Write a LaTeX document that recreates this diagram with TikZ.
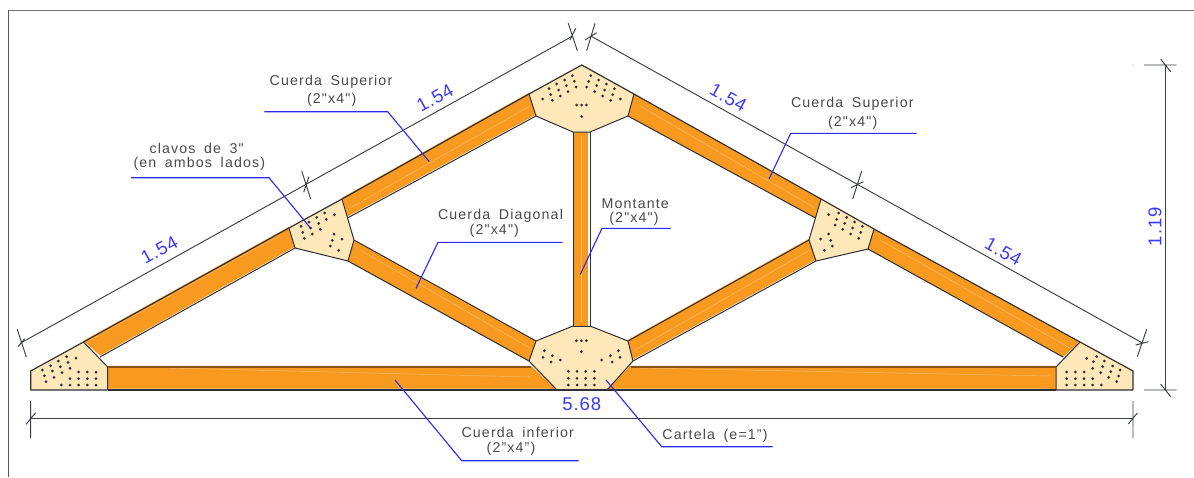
\documentclass[tikz,border=0pt]{standalone}
\usepackage{fontspec}
\setmainfont{Liberation Sans}
\newfontfamily\cadfont[LetterSpace=8,WordSpace=1.7]{Liberation Sans}
\newfontfamily\cadnum[LetterSpace=5]{Liberation Sans}
\definecolor{wood}{HTML}{F99A20}
\definecolor{woodtop}{HTML}{8A5212}
\definecolor{plate}{HTML}{FEE7B8}
\definecolor{inkline}{HTML}{2E3036}
\definecolor{dimline}{HTML}{3C4046}
\definecolor{leader}{HTML}{2A2AF0}
\definecolor{numblue}{HTML}{3A3AFF}
\definecolor{txtgray}{HTML}{4A4A4A}
\tikzset{
  lbl/.style={font=\cadfont\fontsize{14.2}{15}\selectfont,text=txtgray,inner sep=0pt,anchor=center},
  num/.style={font=\cadnum\fontsize{18.5}{19}\selectfont,text=numblue,inner sep=0pt,anchor=center},
  woodfill/.style={fill=wood,draw=none},
  platefill/.style={fill=plate,draw=none},
  edge/.style={draw=inkline,line width=1.15pt,line join=round},
  thinedge/.style={draw=inkline,line width=1pt,line join=round},
  dimln/.style={draw=dimline,line width=0.95pt},
  leaderln/.style={draw=leader,line width=1.1pt,line join=round},
  streak/.style={draw=white,line width=0.5pt,opacity=0.3},
}
\newcommand{\dotsat}[3]{\foreach \u/\v in {#3} \fill[inkline] ({#1+\u/3},{#2+\v/3}) circle (1.5pt);}
\begin{document}
\begin{tikzpicture}[x=1pt,y=-1pt]
\useasboundingbox (0,0) rectangle (1194,477);
\fill[white] (0,0) rectangle (1194,477);
% frame
\draw[draw=gray!90!black,line width=1.6pt] (8,10.5) -- (1194,10.5);
\draw[draw=inkline!80,line width=1.3pt] (8.3,10) -- (8.3,477);
% vertices
\coordinate (lA) at (30.7,371);\coordinate (lB) at (30.7,390);\coordinate (lC) at (107.7,390);\coordinate (lD) at (107.7,367);\coordinate (lE) at (83.5,342);\coordinate (lF) at (100,357);
\coordinate (rA) at (1133,371);\coordinate (rB) at (1133,390);\coordinate (rC) at (1056,390);\coordinate (rD) at (1056,367);\coordinate (rE) at (1080,342);\coordinate (rF) at (1063,357);
\coordinate (tA) at (581.7,65);\coordinate (tB) at (634,94);\coordinate (tC) at (628,116);\coordinate (tD) at (590,132);\coordinate (tE) at (573,132);\coordinate (tF) at (536,116);\coordinate (tG) at (529,94);
\coordinate (bA) at (573,326);\coordinate (bB) at (590,326);\coordinate (bC) at (628,341);\coordinate (bD) at (633,361);\coordinate (bE) at (607,390);\coordinate (bF) at (557,390);\coordinate (bG) at (529,361);\coordinate (bH) at (536,341);
\coordinate (mA) at (289,228);\coordinate (mB) at (342,199);\coordinate (mC) at (354,240);\coordinate (mD) at (348,261);\coordinate (mE) at (295,248);\coordinate (mF) at (347.5,218);
\coordinate (nA) at (821,199);\coordinate (nB) at (874,229);\coordinate (nC) at (868,249);\coordinate (nD) at (816,261);\coordinate (nE) at (809,240);\coordinate (nF) at (815.5,218);
% member fills (lower edge kept clear on the rising members)
\fill[woodfill] ([shift={(0,-1.3)}]lE) -- ([shift={(0,-1.3)}]mA) -- ([shift={(0,-1.4)}]mE) -- ([shift={(0,-1.4)}]lF) -- cycle;
\fill[woodfill] ([shift={(0,-1.3)}]mB) -- ([shift={(0,-1.3)}]tG) -- ([shift={(0,-1.4)}]tF) -- ([shift={(0,-1.4)}]mF) -- cycle;
\fill[woodfill] (tB) -- (nA) -- (nF) -- (tC) -- cycle;
\fill[woodfill] (nB) -- (rE) -- (rF) -- (nC) -- cycle;
\fill[woodfill] (mC) -- (bH) -- (bG) -- (mD) -- cycle;
\fill[woodfill] ([shift={(0,-1.3)}]nE) -- ([shift={(0,-1.3)}]bC) -- ([shift={(0,-1.4)}]bD) -- ([shift={(0,-1.4)}]nD) -- cycle;
\fill[woodfill] (tE) -- (588.2,132) -- (588.2,326) -- (bA) -- cycle;
\fill[woodfill] (107.7,365.8) -- (531,365.8) -- (bF) -- (lC) -- cycle;
\fill[woodfill] (630,365.8) -- (1056,365.8) -- (rC) -- (bE) -- cycle;
% grain streaks
\draw[streak] (90,340) -- (280,235);
\draw[streak] (350,208) -- (530,106);
\draw[streak] (640,106) -- (815,208);
\draw[streak] (880,240) -- (1070,348);
\draw[streak] (360,250) -- (530,348);
\draw[streak] (635,350) -- (810,250);
\draw[streak] (581,136) -- (581,322);
\draw[streak] (170,368) -- (530,377);
\draw[streak] (640,368) -- (1050,376);
\draw[streak] (110,388.5) -- (550,388.5);
\draw[streak] (615,388.5) -- (1050,388.5);
% plates
\fill[platefill] ([shift={(0,-1)}]lA) -- (lB) -- (lC) -- (lD) -- ([shift={(0,-1)}]lE) -- cycle;
\fill[platefill] ([shift={(0,-1)}]rA) -- (rB) -- (rC) -- (rD) -- ([shift={(0,-1)}]rE) -- cycle;
\fill[platefill] ([shift={(0,-1)}]tA) -- ([shift={(0,-1)}]tB) -- (tC) -- (tD) -- (tE) -- (tF) -- ([shift={(0,-1)}]tG) -- cycle;
\fill[platefill] (bA) -- (bB) -- (bC) -- (bD) -- (bE) -- (bF) -- (bG) -- (bH) -- cycle;
\fill[platefill] ([shift={(0,-1)}]mA) -- ([shift={(0,-1)}]mB) -- (mC) -- (mD) -- (mE) -- cycle;
\fill[platefill] ([shift={(0,-1)}]nA) -- ([shift={(0,-1)}]nB) -- (nC) -- (nD) -- (nE) -- cycle;
% outlines
\draw[edge] (lC) -- (lB) -- (lA) -- (lE) -- (mA) -- (mB) -- (tG) -- (tA) -- (tB) -- (nA) -- (nB) -- (rE) -- (rA) -- (rB) -- (rC);
\draw[thinedge] (lC) -- (lD) -- (lE) (lF) -- (mE) -- (mA) (mE) -- (mD) -- (mC) -- (mB) (mF) -- (tF) -- (tG) (tF) -- (tE) -- (tD) -- (tC) -- (tB) (tC) -- (nF) (nA) -- (nE) -- (nD) -- (nC) -- (nB) (nC) -- (rF) (rE) -- (rD) -- (rC);
\draw[thinedge] (tE) -- (bA) -- (bB) -- (tD);
\draw[thinedge] (bA) -- (bH) -- (bG) -- (bF) (bB) -- (bC) -- (bD) -- (bE);
\draw[thinedge] (mC) -- (bH) (mD) -- (bG) (nE) -- (bC) (nD) -- (bD);
\draw[draw=woodtop,line width=1.2pt] (lD) -- (531,367) (630.5,367) -- (rD);
\draw[edge] (lC) -- (bF) -- (bE) -- (rC);
% nails
\dotsat{0}{300}{127/210,152/197,175/183,200/170,228/174,133/227,157/213,181/200,204/187,138/245,162/232,186/218,210/205,184/255,210/255,236/255,262/255,288/255,210/236,236/236,262/236,288/236,236/216,262/216,288/216}
\dotsat{1020}{40}{140/1035,166/1035,192/1035,218/1035,244/1035,140/1016,166/1016,192/1016,218/1016,140/996,166/996,192/996,200/955,230/950,253/963,278/978,300/990,220/965,248/980,272/995,296/1008,218/985,242/998,266/1012,290/1025}
\dotsat{480}{10}{277/197,254/210,230/222,207/236,283/214,259/227,236/240,212/254,288/231,264/245,241/258,217/271,188/267,332/197,356/210,379/222,403/236,326/214,350/227,374/240,398/254,320/231,344/245,368/258,392/271,421/267,290/285,305/285,319/285,305/320}
\dotsat{500}{300}{205/214,231/214,257/214,283/214,205/235,231/235,257/235,283/235,205/255,231/255,257/255,283/255,229/122,244/122,259/122,244/155,133/152,157/167,181/180,129/172,153/186,355/152,331/167,305/180,360/172,336/186}
\dotsat{260}{160}{123/199,147/186,170/172,194/159,223/164,128/217,152/204,176/190,199/178,133/235,157/222,181/208,222/222,246/237,217/241,211/258,236/271}
\dotsat{780}{160}{146/164,176/159,200/172,224/186,247/199,170/178,194/190,218/204,242/217,165/195,188/208,212/222,236/235,146/222,122/237,152/241,157/258,133/271}
% dimension lines
\coordinate (d1) at (21.3,342.7);\coordinate (d2) at (306,183);\coordinate (d3) at (572.7,36);\coordinate (d4) at (590.7,36);\coordinate (d5) at (857.3,184.3);\coordinate (d6) at (1142,342.7);
\draw[dimln] (d1) -- (d3) (d4) -- (d6);
\draw[dimln] (17.3,329.3) -- (26.3,357) (18,346.7) -- (24.6,338.7);
\draw[dimln] (301.7,171) -- (310.7,199) (303.7,192.3) -- (309,176.7);
\draw[dimln] (568.3,23.3) -- (577.3,50.7) (570,40) -- (575.7,28.3);
\draw[dimln] (595,23.3) -- (586.7,50.7) (585,40) -- (596.7,32.7);
\draw[dimln] (861.7,171) -- (852.7,199) (851,187.7) -- (863.3,181.7);
\draw[dimln] (1146.7,329.3) -- (1137.3,356.7) (1135.7,345) -- (1148.3,341.7);
\coordinate (h1) at (30.7,418);\coordinate (h2) at (1133,418);
\draw[dimln] (h1) -- (h2);
\draw[dimln] (30.7,401) -- (30.7,438) (26,424.3) -- (35.7,412.7);
\draw[dimln] (1133,401) -- (1133,438) (1128.3,424) -- (1137.3,413);
\coordinate (v1) at (1165.7,65);\coordinate (v2) at (1165.7,390);
\draw[dimln] (v1) -- (v2);
\draw[dimln] (1144,65) -- (1176.7,65) (1160.7,59.3) -- (1170.7,71.7);
\draw[dimln] (1144,390) -- (1176.7,390) (1160.7,384) -- (1170.7,396.7);
\fill[gray] (1133,65) circle (0.5pt);
% leaders
\draw[leaderln] (264.3,111.7) -- (387.7,111.7) -- (429.3,161.7);
\draw[leaderln] (131,177.7) -- (269,177.7) -- (310.7,228.3);
\draw[leaderln] (562.7,242.3) -- (438,242.3) -- (416,288.3);
\draw[leaderln] (670.7,228.3) -- (602,228.3) -- (580.3,274.3);
\draw[leaderln] (916.7,133.3) -- (790.7,133.3) -- (769,179);
\draw[leaderln] (395,380) -- (461.7,460.7) -- (578.7,460.7);
\draw[leaderln] (606,380) -- (661.7,446.7) -- (772.7,446.7);
% labels
\node[lbl] (t1) at (331,81.7) {Cuerda Superior};
\node[lbl] (t2) at (331.7,100) {(2"x4")};
\node[lbl] (t3) at (196.7,148) {clavos de 3"};
\node[lbl] (t4) at (199.3,164) {(en ambos lados)};
\node[lbl] (t5) at (500.5,215.7) {Cuerda Diagonal};
\node[lbl] (t6) at (494.3,231) {(2"x4")};
\node[lbl] (t7) at (635.3,204) {Montante};
\node[lbl] (t8) at (634,219) {(2"x4")};
\node[lbl] (t9) at (852.3,104) {Cuerda Superior};
\node[lbl] (t10) at (852.7,122.7) {(2"x4")};
\node[lbl] (t11) at (517.7,432.3) {Cuerda inferior};
\node[lbl] (t12) at (511,449.3) {(2”x4”)};
\node[lbl] (t13) at (715,436) {Cartela (e=1”)};
\node[num] (n1) at (581.7,404.3) {5.68};
\node[num,rotate=29] (n2) at (435,98) {1.54};
\node[num,rotate=29] (n3) at (159.3,250) {1.54};
\node[num,rotate=-29] (n4) at (728.3,97.7) {1.54};
\node[num,rotate=-29] (n5) at (1003.3,251.7) {1.54};
\node[num,rotate=90] (n6) at (1155,226.7) {1.19};
\end{tikzpicture}
\end{document}
